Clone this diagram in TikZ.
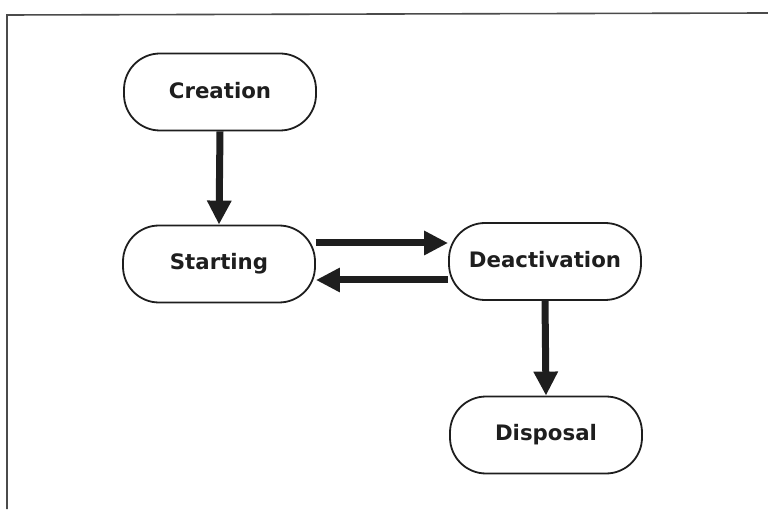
\documentclass[tikz,border=0pt]{standalone}
\usepackage{fontspec}
\setmainfont{DejaVu Sans}
\usetikzlibrary{arrows.meta,calc}
\definecolor{ink}{HTML}{1E1E1E}
\tikzset{
  state/.style={draw=ink, line width=1.8pt, rounded corners=36pt,
    minimum width=192pt, minimum height=77pt, fill=white,
    text=ink, font=\fontsize{21.3pt}{25pt}\selectfont\bfseries},
  flow/.style={draw=ink, line width=7pt,
    -{Triangle[width=23pt,length=24pt]}, shorten >=0pt},
  frame/.style={draw=ink!80, line width=1.6pt}
}
\begin{document}
\begin{tikzpicture}[x=1pt,y=1pt]
  \useasboundingbox (0,0) rectangle (768,509);
  % open outer frame: left and top edges only
  \coordinate (fbl) at (7,0);
  \coordinate (ftl) at (7,494);
  \coordinate (ftr) at (768,496);
  \draw[frame] (fbl) -- (ftl) -- (ftr);

  % lifecycle states
  \node[state] (creation)     at (220,417) {\raisebox{4pt}{Creation}};
  \node[state] (starting)     at (219,245) {\raisebox{4pt}{Starting}};
  \node[state] (deactivation) at (545,247.5) {\raisebox{4pt}{Deactivation}};
  \node[state] (disposal)     at (546,74) {\raisebox{4pt}{Disposal}};

  % transitions
  \draw[flow] (creation.south) -- (starting.north);
  \draw[flow] ([yshift=21pt]starting.east) -- ([yshift=21pt]starting.east -| deactivation.west);
  \draw[flow] ([yshift=-18.5pt]deactivation.west) -- ([yshift=-18.5pt]deactivation.west -| starting.east);
  \draw[flow] (deactivation.south) -- (disposal.north);
\end{tikzpicture}
\end{document}
